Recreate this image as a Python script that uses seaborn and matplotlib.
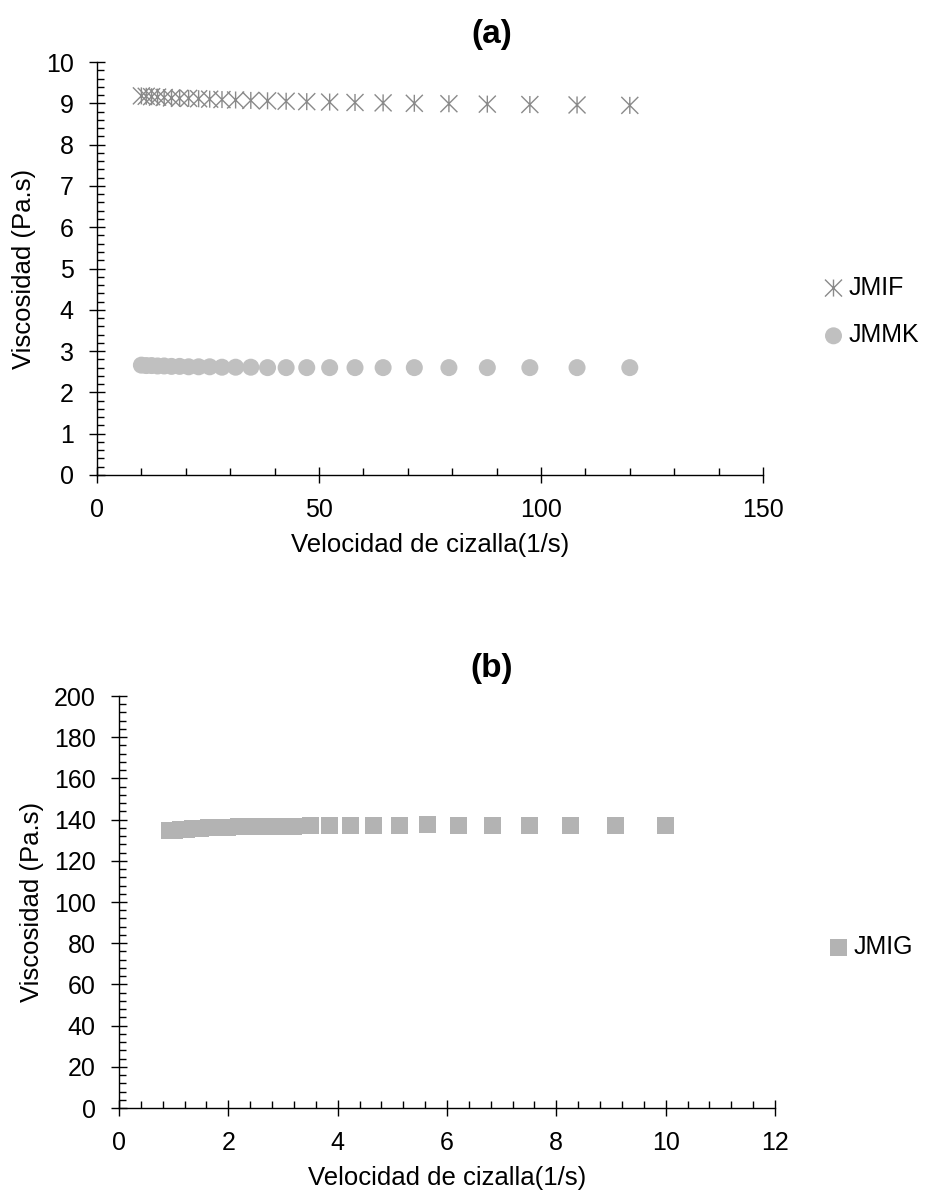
import numpy as np
import pandas as pd
import matplotlib
matplotlib.use("Agg")
import matplotlib.pyplot as plt
from matplotlib.path import Path
from matplotlib.ticker import MultipleLocator
import seaborn as sns

# ---------------- data ----------------
shear_a = [10.0, 11.09, 12.30, 13.64, 15.13, 16.78, 18.61, 20.64, 22.89, 25.38,
           28.15, 31.22, 34.64, 38.41, 42.60, 47.24, 52.40, 58.11, 64.44, 71.47,
           79.26, 87.91, 97.49, 108.12, 120.0]
visc_jmif = [9.18, 9.17, 9.16, 9.15, 9.14, 9.13, 9.12, 9.12, 9.11, 9.10,
             9.09, 9.08, 9.07, 9.06, 9.05, 9.04, 9.03, 9.02, 9.01, 9.00,
             8.99, 8.98, 8.97, 8.96, 8.95]
visc_jmmk = [2.66, 2.65, 2.65, 2.64, 2.64, 2.63, 2.63, 2.62, 2.62, 2.62,
             2.61, 2.61, 2.61, 2.60, 2.60, 2.60, 2.60, 2.60, 2.60, 2.60,
             2.60, 2.60, 2.60, 2.60, 2.60]

shear_b = [0.92, 1.02, 1.12, 1.23, 1.35, 1.49, 1.64, 1.80, 1.98, 2.18,
           2.39, 2.63, 2.90, 3.19, 3.50, 3.85, 4.24, 4.66, 5.13, 5.64,
           6.21, 6.83, 7.51, 8.26, 9.09, 10.0]
visc_jmig = [134.8, 134.9, 135.0, 135.3, 135.6, 135.9, 136.2, 136.3, 136.4, 136.5,
             136.6, 136.7, 136.8, 136.8, 136.9, 136.9, 137.0, 137.0, 137.0, 137.4,
             137.0, 137.0, 136.9, 136.9, 136.9, 137.0]

xlabel = "Velocidad de cizalla(1/s)"
ylabel = "Viscosidad (Pa.s)"

# ---------------- style ----------------
sns.set_theme(style="white")
plt.rcParams["font.family"] = ["Liberation Sans", "DejaVu Sans"]
plt.rcParams["text.color"] = "black"
plt.rcParams["axes.labelcolor"] = "black"
plt.rcParams["xtick.color"] = "black"
plt.rcParams["ytick.color"] = "black"
FS = 18
LFS = 18.5

W, H = 925, 1192
fig = plt.figure(figsize=(W / 100, H / 100), dpi=100)

def px_axes(l, r, t, b):
    return fig.add_axes([l / W, 1 - b / H, (r - l) / W, (b - t) / H])

ax1 = px_axes(97, 763, 62, 475)
ax2 = px_axes(119, 775, 696, 1108)

# star marker: X with vertical line
star = Path([(-1, -1), (1, 1), (-1, 1), (1, -1), (0, -1), (0, 1)],
            [Path.MOVETO, Path.LINETO, Path.MOVETO, Path.LINETO, Path.MOVETO, Path.LINETO])

df_a1 = pd.DataFrame({"x": shear_a, "y": visc_jmif})
df_a2 = pd.DataFrame({"x": shear_a, "y": visc_jmmk})
df_b = pd.DataFrame({"x": shear_b, "y": visc_jmig})

sns.scatterplot(data=df_a1, x="x", y="y", ax=ax1, marker=star, s=150,
                color="#8a8a8a", edgecolor="#8a8a8a", facecolor="none",
                linewidth=1.0, label="JMIF", zorder=3)
sns.scatterplot(data=df_a2, x="x", y="y", ax=ax1, marker="o", s=150,
                color="#c0c0c0", edgecolor="none", label="JMMK", zorder=3)
sns.scatterplot(data=df_b, x="x", y="y", ax=ax2, marker="s", s=150,
                color="#b3b3b3", edgecolor="none", label="JMIG", zorder=3)

def style_axes(ax, xlim, ylim, xmaj, xmin, ymaj, ymin):
    ax.set_xlim(*xlim)
    ax.set_ylim(*ylim)
    ax.xaxis.set_major_locator(MultipleLocator(xmaj))
    ax.xaxis.set_minor_locator(MultipleLocator(xmin))
    ax.yaxis.set_major_locator(MultipleLocator(ymaj))
    ax.yaxis.set_minor_locator(MultipleLocator(ymin))
    for s in ["top", "right"]:
        ax.spines[s].set_visible(False)
    for s in ["left", "bottom"]:
        ax.spines[s].set_color("black")
        ax.spines[s].set_linewidth(1.0)
        ax.spines[s].set_zorder(1)
    ax.tick_params(which="major", direction="inout", length=11.5, width=1.0,
                   color="black", labelsize=FS, pad=11, labelcolor="black",
                   bottom=True, left=True)
    ax.tick_params(which="minor", direction="in", length=5, width=1.0,
                   color="black", bottom=True, left=True)
    ax.set_xlabel(xlabel, fontsize=LFS, labelpad=8, color="black")
    ax.set_ylabel(ylabel, fontsize=LFS, labelpad=7, color="black")
    ax.set_facecolor("white")
    ax.patch.set_alpha(0)

style_axes(ax1, (0, 150), (0, 10), 50, 10, 1, 0.2)
style_axes(ax2, (0, 12), (0, 200), 2, 0.4, 20, 4)

fig.text(492 / W, 1 - 34 / H, "(a)", fontsize=24, fontweight="bold",
         ha="center", va="center", color="black")
fig.text(492 / W, 1 - 668 / H, "(b)", fontsize=24, fontweight="bold",
         ha="center", va="center", color="black")

leg1 = ax1.legend(loc="center left", bbox_to_anchor=(821 / W, 1 - 311.5 / H),
                  bbox_transform=fig.transFigure, frameon=False, fontsize=FS,
                  handlelength=1.0, handletextpad=0.1, borderpad=0, borderaxespad=0,
                  labelspacing=0.95)
leg2 = ax2.legend(loc="center left", bbox_to_anchor=(826 / W, 1 - 947 / H),
                  bbox_transform=fig.transFigure, frameon=False, fontsize=FS,
                  handlelength=1.0, handletextpad=0.1, borderpad=0, borderaxespad=0)
for leg in (leg1, leg2):
    for t in leg.get_texts():
        t.set_color("black")

fig.savefig("out.png", dpi=100, facecolor="white")
